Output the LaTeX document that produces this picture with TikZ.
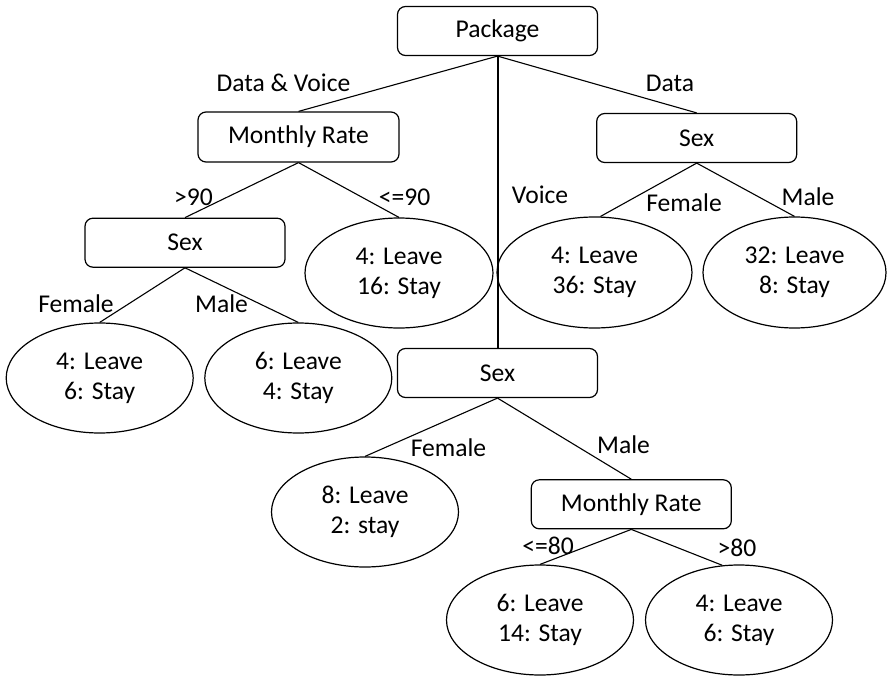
\documentclass[tikz,border=0pt]{standalone}
\usepackage{fontspec}
\setmainfont{Carlito}
\usetikzlibrary{shapes.geometric}
\begin{document}
\begin{tikzpicture}[x=1pt,y=-1pt,
 box/.style={draw, rounded corners=8pt, minimum width=200pt, minimum height=49pt, inner sep=0pt, line width=1.2pt},
 leaf/.style={draw, ellipse, minimum width=187pt, minimum height=110pt, inner sep=0pt, align=center, line width=1.2pt},
 conn/.style={line width=1.1pt},
 lbl/.style={anchor=base, inner sep=0pt},
 font=\fontsize{25.6}{30}\selectfont]
\useasboundingbox (0,0) rectangle (887,677);
% decision nodes
\node[box] (pkg) at (497.5,31) {Package};
\node[box, minimum width=201pt, minimum height=50pt] (mr1) at (298.5,137) {Monthly Rate};
\node[box] (sexL) at (185,242.7) {Sex};
\node[box] (sexR) at (696.7,138) {Sex};
\node[box] (sexM) at (497.5,373) {Sex};
\node[box] (mr2) at (631.3,504.3) {Monthly Rate};
% leaves
\node[leaf, minimum width=188pt] (l416) at (399,273) {4: Leave\\16: Stay};
\node[leaf] (l46) at (99.7,378) {4: Leave\\6: Stay};
\node[leaf] (l64) at (298.3,378) {6: Leave\\4: Stay};
\node[leaf, minimum width=195pt, minimum height=111pt] (l436) at (594.5,272.5) {4: Leave\\36: Stay};
\node[leaf, minimum width=183pt, minimum height=111pt] (l328) at (794.5,272.5) {32: Leave\\8: Stay};
\node[leaf] (l82) at (365,512) {8: Leave\\2: stay};
\node[leaf] (l614) at (540,620) {6: Leave\\14: Stay};
\node[leaf] (l46b) at (739,620) {4: Leave\\6: Stay};
% connectors
\draw[conn] (pkg.south) -- (mr1.north);
\draw[conn, line width=2pt] (pkg.south) -- (sexM.north);
\draw[conn] (pkg.south) -- (sexR.north);
\draw[conn] (mr1.south) -- (sexL.north);
\draw[conn] (mr1.south) -- (l416.north);
\draw[conn] (sexL.south) -- (l46.north);
\draw[conn] (sexL.south) -- (l64.north);
\draw[conn] (sexR.south) -- (l436.84);
\draw[conn] (sexR.south) -- (l328.north);
\draw[conn] (sexM.south) -- (l82.north);
\draw[conn] (sexM.south) -- (mr2.north);
\draw[conn] (mr2.south) -- (l614.north);
\draw[conn] (mr2.south) -- (l46b.107);
% labels
\node[lbl] (tDV) at (283.5,91.5) {Data \& Voice};
\node[lbl] (tD) at (670,92) {Data};
\node[lbl] (tV) at (540,203) {Voice};
\node[lbl] (tG90) at (193.5,205) {>90};
\node[lbl] (tL90) at (404.5,205) {<=90};
\node[lbl] (tFR) at (684,211.7) {Female};
\node[lbl] (tMR) at (808,205) {Male};
\node[lbl] (tFL) at (76,312.7) {Female};
\node[lbl] (tML) at (221.5,312.7) {Male};
\node[lbl] (tFM) at (448.5,456) {Female};
\node[lbl] (tMM) at (623.5,453) {Male};
\node[lbl] (tL80) at (548,554) {<=80};
\node[lbl] (tG80) at (737,556) {>80};
\end{tikzpicture}
\end{document}
